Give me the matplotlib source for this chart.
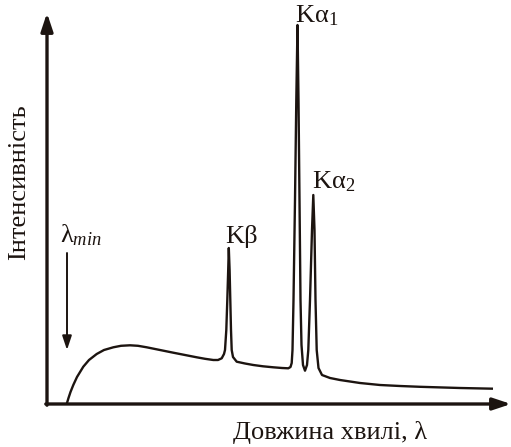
import numpy as np
import matplotlib
matplotlib.use('Agg')
import matplotlib.pyplot as plt

plt.rcParams['font.family'] = ['Liberation Serif', 'DejaVu Serif']
plt.rcParams['mathtext.fontset'] = 'custom'
plt.rcParams['mathtext.rm'] = 'Liberation Serif'
plt.rcParams['mathtext.it'] = 'Liberation Serif:italic'
plt.rcParams['mathtext.default'] = 'rm'

INK = '#1c1410'
FS = 19

# spectrum trace (wavelength, intensity) in arbitrary units
wavelength = [19.7, 21.5, 23.5, 26.3, 30.0, 36.3, 42.0, 49.7, 57.0, 66.3, 74.0,
              83.0, 91.0, 99.7, 113.0, 126.3, 138.0, 149.7, 158.0, 166.3, 171.0,
              174.7, 177.0, 178.0,
              # K-beta line
              179.3, 180.3, 181.2, 181.8, 182.6, 183.3, 184.0, 184.7, 186.0,
              189.7, 198.0, 206.3, 216.0, 226.3, 235.0, 241.3, 243.5, 244.7, 245.5,
              # K-alpha1 line
              246.5, 248.0, 249.3, 250.5, 251.5, 252.5, 253.5, 254.5, 256.0, 258.0,
              # K-alpha2 line
              260.0, 261.3, 263.0, 265.0, 266.3, 267.5, 268.5, 269.7, 271.5,
              275.0, 283.0, 293.0, 313.0, 333.0, 353.0, 373.0, 393.0, 413.0, 446.0]
intensity = [0.0, 6.0, 12.0, 19.0, 27.0, 37.3, 44.0, 50.0, 54.0, 56.7, 58.2,
             58.7, 58.2, 56.7, 54.0, 51.3, 49.0, 46.7, 45.2, 44.0, 44.0,
             45.7, 50.0, 54.0,
             74.0, 104.0, 134.0, 156.0, 134.0, 104.0, 74.0, 54.0, 47.0,
             42.3, 40.5, 39.0, 37.7, 36.7, 36.0, 35.7, 37.0, 41.0, 54.0,
             104.0, 204.0, 304.0, 379.0, 304.0, 204.0, 104.0, 59.0, 39.0, 33.3,
             39.0, 54.0, 104.0, 174.0, 209.0, 174.0, 104.0, 54.0, 36.0,
             29.0, 26.0, 24.0, 21.0, 19.0, 18.0, 17.2, 16.6, 16.0, 15.3]

lines = ['K\u03b2', 'K\u03b1$_1$', 'K\u03b1$_2$']
line_pos = [178.0, 248.0, 265.0]
line_top = [161.0, 382.0, 216.0]

lam_min = 20.0

fig = plt.figure(figsize=(5.11, 4.47), dpi=100)
ax = fig.add_axes([0, 0, 1, 1])
ax.set_xlim(-47, 464)
ax.set_ylim(-43, 404)
ax.axis('off')

# axes with arrow heads
arrow = dict(arrowstyle='-|>,head_length=0.6,head_width=0.2', lw=2.4,
             color=INK, shrinkA=0, shrinkB=0, mutation_scale=18)
ax.annotate('', xy=(464, 0), xytext=(-1.2, 0), arrowprops=arrow)
ax.annotate('', xy=(0, 391), xytext=(0, -1.2), arrowprops=arrow)

ax.plot(wavelength, intensity, color=INK, lw=1.7, solid_joinstyle='round',
        solid_capstyle='butt')

for name, x, y in zip(lines, line_pos, line_top):
    ax.text(x, y, name, fontsize=FS, ha='left', va='baseline', color=INK)

# short-wavelength limit marker
ax.text(lam_min - 7, 162, '\u03bb$_{\\mathit{min}}$', fontsize=FS,
        ha='left', va='baseline', color=INK)
ax.annotate('', xy=(lam_min, 54), xytext=(lam_min, 151),
            arrowprops=dict(arrowstyle='-|>,head_length=0.6,head_width=0.2',
                            lw=1.4, color=INK, shrinkA=0, shrinkB=0,
                            mutation_scale=14))

ax.text(283, -28, 'Довжина хвилі, \u03bb', fontsize=FS, ha='center',
        va='center', color=INK)
ax.text(-28, 222, 'Інтенсивність', fontsize=FS, rotation=90, ha='center',
        va='center', color=INK)

fig.savefig('out.png', dpi=100)
